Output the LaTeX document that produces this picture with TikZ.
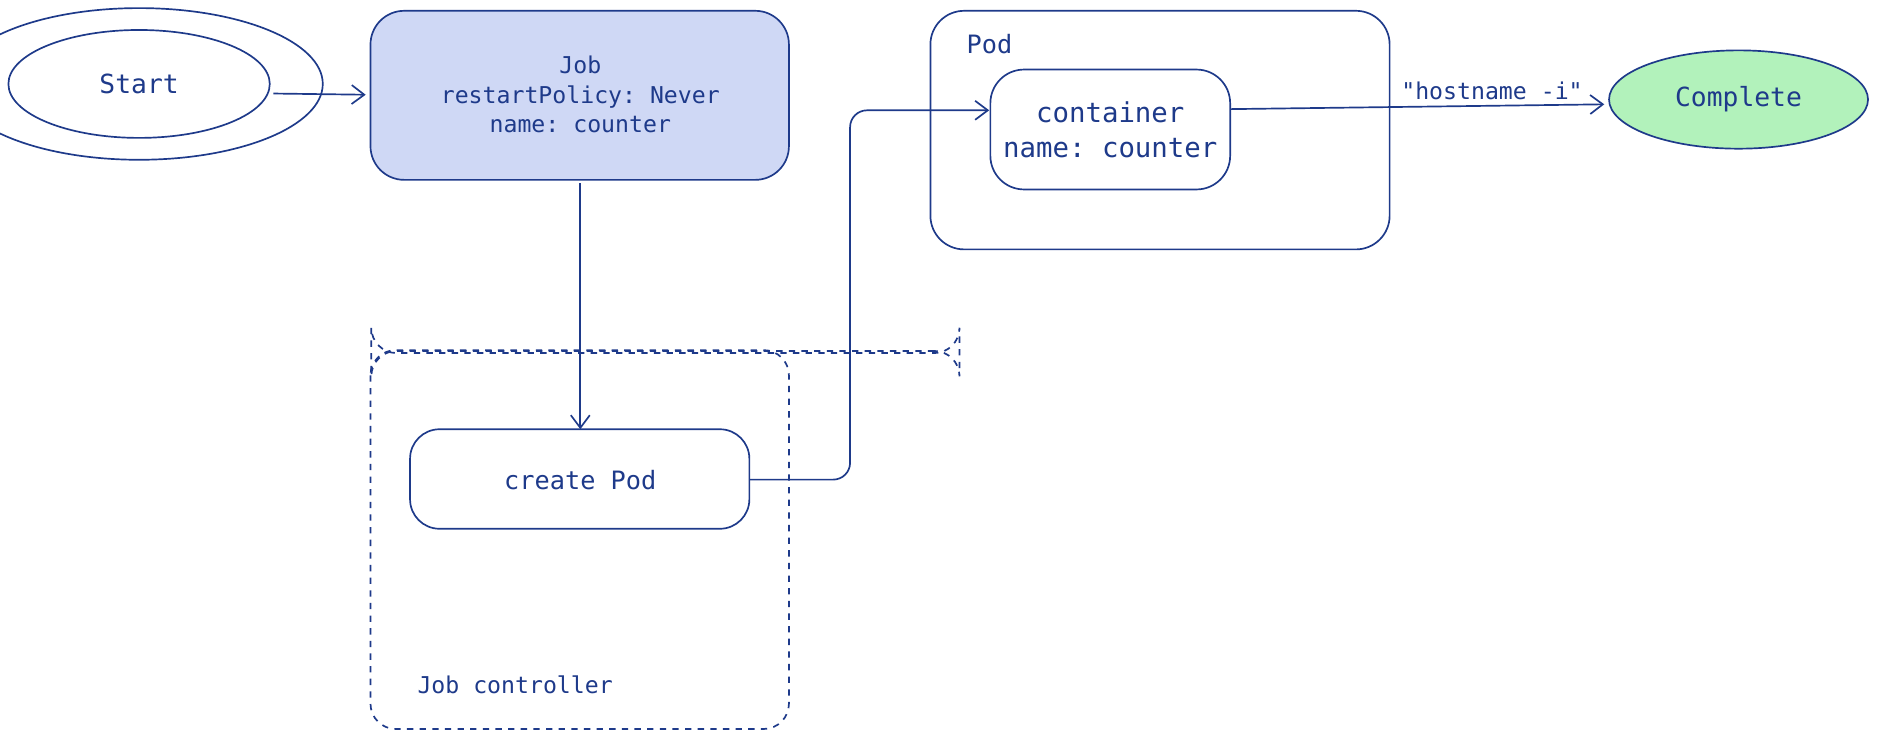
\documentclass[tikz,border=0pt]{standalone}
\usepackage{fontspec}
\setmonofont{DejaVu Sans Mono}
\usetikzlibrary{shapes.geometric,arrows.meta}
\definecolor{ink}{HTML}{1E3A8A}
\definecolor{jobfill}{HTML}{CFD8F5}
\definecolor{donefill}{HTML}{B2F2BB}
\begin{document}
\begin{tikzpicture}[x=0.02cm,y=-0.02cm,
    every node/.style={text=ink,font=\ttfamily\fontsize{11}{14}\selectfont},
    box/.style={draw=ink,thick,rounded corners=12pt,inner sep=0pt},
    oval/.style={ellipse,draw=ink,thick,inner sep=0pt,font=\ttfamily\fontsize{12.5}{15}\selectfont},
    link/.style={draw=ink,thick,-{Straight Barb[length=6pt,width=9pt]}}]
\useasboundingbox (0,0) rectangle (1568,620);
% frames
\node[box,dashed,minimum width=349\pgflinewidth,anchor=north west] (ctrl) at (309,292) {};
\draw[ink,thick,dashed,rounded corners=12pt] (309,292) rectangle (658,608);
\node[anchor=west] (ctrllabel) at (342,571) {Job controller};
\draw[ink,thick,rounded corners=16pt] (776,9) rectangle (1159,208);
\node[anchor=west,font=\ttfamily\fontsize{12}{14}\selectfont] (podlabel) at (800,37) {Pod};
% nodes
\node[oval,minimum width=218\pgflinewidth,minimum height=90\pgflinewidth] (start) at (116,70) {};
\draw[ink,thick] (116,70) ellipse [x radius=109,y radius=45];
\node (starttext) at (116,70) {\fontsize{12.5}{15}\selectfont Start};
\draw[ink,thick,fill=jobfill,rounded corners=16pt] (309,9) rectangle (658,150);
\node[align=center] (job) at (484,79) {Job\\restartPolicy: Never\\name: counter};
\draw[ink,thick,rounded corners=14pt] (342,358) rectangle (625,441);
\node (create) at (484,400) {\fontsize{12}{14}\selectfont create Pod};
\draw[ink,thick,rounded corners=16pt] (826,58) rectangle (1026,158);
\node[align=center,font=\ttfamily\fontsize{13}{16.5}\selectfont] (cont) at (926,108) {container\\name: counter};
\draw[ink,thick,fill=donefill] (1450,83) ellipse [x radius=108,y radius=41];
\node (done) at (1450,83) {\fontsize{12.5}{15}\selectfont Complete};
% connectors
\coordinate (startE) at (228,78);
\coordinate (jobW) at (305,79);
\coordinate (jobS) at (484,153);
\coordinate (createN) at (484,358);
\coordinate (createE) at (625,400);
\coordinate (contW) at (825,92);
\coordinate (contE) at (1026,91);
\coordinate (doneW) at (1338,87);
\draw[link] (startE) -- (jobW);
\draw[link] (jobS) -- (createN);
\draw[link,rounded corners=8pt] (createE) -- (709,400) -- (709,92) -- (contW);
\draw[link] (contE) -- node[above,pos=0.7,yshift=-1pt] {"hostname -i"} (doneW);
\end{tikzpicture}
\end{document}
